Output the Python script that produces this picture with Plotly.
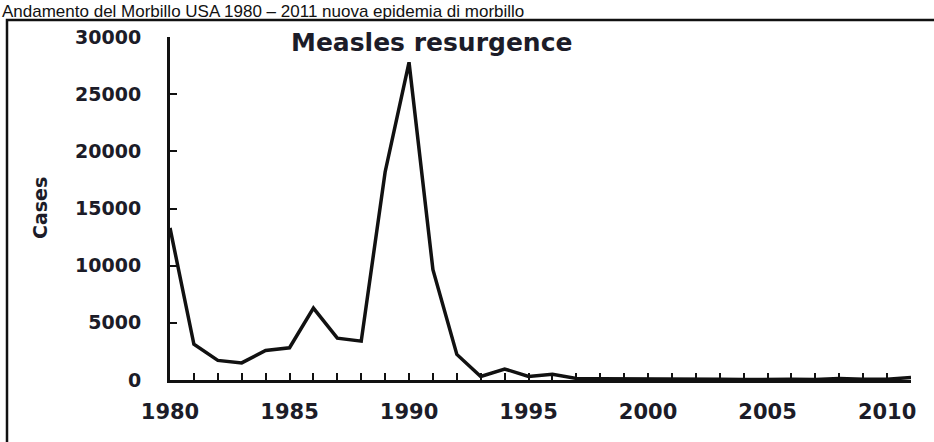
import plotly.graph_objects as go

years = list(range(1980, 2012))
cases = [13300, 3124, 1714, 1497, 2587, 2822, 6282, 3655, 3396, 18193,
         27786, 9643, 2237, 312, 963, 309, 508, 138, 100, 100,
         86, 116, 44, 56, 37, 66, 55, 43, 140, 71, 63, 222]
x_tick_labels = [str(y) if y % 5 == 0 else "" for y in years]
y_tick_vals = [0, 5000, 10000, 15000, 20000, 25000, 30000]
y_tick_labels = ["0", "5000", "10000", "15000", "20000", "25000", "30000"]

W, H = 934, 442
L, R, T, B = 170, 23, 37, 62
pw, ph = W - L - R, H - T - B

def px_x(p):
    return (p - L) / pw

def px_y(p):
    return (H - B - p) / ph

txt = "#1c1c28"
fam = "DejaVu Sans"

fig = go.Figure()
fig.add_trace(go.Scatter(x=years, y=cases, mode="lines",
                         line=dict(color="#111111", width=3.5),
                         cliponaxis=False, showlegend=False))

fig.update_layout(
    width=W, height=H,
    margin=dict(l=L, r=R, t=T, b=B, autoexpand=False),
    paper_bgcolor="white", plot_bgcolor="white",
    xaxis=dict(range=[1980, 2011], tickmode="array", tickvals=years,
               ticktext=x_tick_labels, ticks="inside", ticklen=7,
               tickwidth=2, tickcolor="#111", showline=True, linewidth=3,
               linecolor="#111", showgrid=False, zeroline=False, automargin=False,
               tickfont=dict(family=fam, size=21, color=txt, weight="bold"),
               ticklabelstandoff=11),
    yaxis=dict(range=[0, 30000], tickmode="array", tickvals=y_tick_vals,
               ticktext=y_tick_labels, ticks="inside", ticklen=7,
               tickwidth=2, tickcolor="#111", showline=True, linewidth=3,
               linecolor="#111", showgrid=False, zeroline=False, automargin=False,
               tickfont=dict(family=fam, size=19, color=txt, weight="bold"),
               ticklabelstandoff=22),
    font=dict(family=fam),
)

# Outer frame
fig.add_shape(type="rect", xref="paper", yref="paper",
              x0=px_x(7), x1=px_x(940), y0=px_y(448), y1=px_y(20),
              line=dict(color="#111", width=2.5), fillcolor="rgba(0,0,0,0)", layer="below")

fig.add_annotation(text="<b>Measles resurgence</b>", xref="paper", yref="paper",
                   x=px_x(431), y=px_y(42), xanchor="center", yanchor="middle",
                   showarrow=False, font=dict(family=fam, size=25, color=txt))
fig.add_annotation(text="<b>Cases</b>", xref="paper", yref="paper",
                   x=px_x(40), y=px_y(208), xanchor="center", yanchor="middle",
                   textangle=-90, showarrow=False,
                   font=dict(family=fam, size=19, color=txt))
fig.add_annotation(text="Andamento del Morbillo USA 1980 – 2011 nuova epidemia di morbillo",
                   xref="paper", yref="paper", x=px_x(0), y=px_y(0),
                   xanchor="left", yanchor="top", showarrow=False,
                   font=dict(family="Liberation Sans, Arial", size=17, color="#111"))

fig.write_html("out.html", config={"displayModeBar": False},
               post_script="document.body.style.margin='0';")
